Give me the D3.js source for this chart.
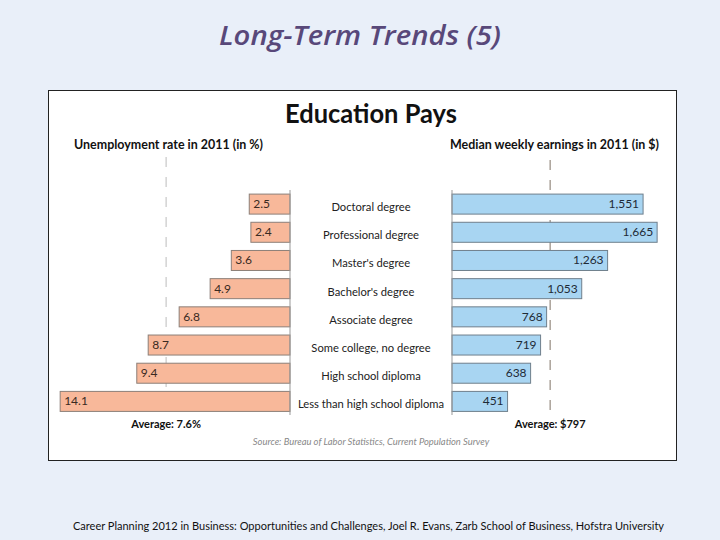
<!DOCTYPE html>
<html>
<head>
<meta charset="utf-8">
<script src="https://cdn.jsdelivr.net/npm/d3@7"></script>
<style>
  html, body { margin: 0; padding: 0; background: #e9eff9; }
  svg { display: block; }
</style>
</head>
<body>
<div id="chart"></div>
<script>
const categories = ['Doctoral degree', 'Professional degree', "Master's degree", "Bachelor's degree",
  'Associate degree', 'Some college, no degree', 'High school diploma', 'Less than high school diploma'];
const unemployment = [2.5, 2.4, 3.6, 4.9, 6.8, 8.7, 9.4, 14.1];
const earnings = [1551, 1665, 1263, 1053, 768, 719, 638, 451];
const unemploymentLabels = ['2.5', '2.4', '3.6', '4.9', '6.8', '8.7', '9.4', '14.1'];
const earningsLabels = ['1,551', '1,665', '1,263', '1,053', '768', '719', '638', '451'];
const avgUnemployment = 7.6;
const avgEarnings = 797;

const width = 720, height = 540;
const font = 'Lato, "Open Sans", sans-serif';

const svg = d3.select('#chart').append('svg')
  .attr('width', width)
  .attr('height', height);

svg.append('rect')
  .attr('width', width).attr('height', height)
  .attr('fill', '#e9eff9');

// slide title
svg.append('text')
  .attr('x', 219).attr('y', 45)
  .attr('textLength', 282).attr('lengthAdjust', 'spacingAndGlyphs')
  .attr('font-family', '"Open Sans", sans-serif')
  .attr('font-style', 'italic')
  .attr('font-weight', 600)
  .attr('font-size', 27)
  .attr('fill', '#58487a')
  .text('Long-Term Trends (5)');

// white panel
svg.append('rect')
  .attr('x', 48.5).attr('y', 90.5)
  .attr('width', 628).attr('height', 370)
  .attr('fill', '#fff')
  .attr('stroke', '#222')
  .attr('stroke-width', 1);

svg.append('text')
  .attr('x', 285).attr('y', 123)
  .attr('textLength', 172).attr('lengthAdjust', 'spacingAndGlyphs')
  .attr('font-family', font)
  .attr('font-weight', 'bold')
  .attr('font-size', 27)
  .attr('fill', '#111')
  .text('Education Pays');

svg.append('text')
  .attr('x', 74).attr('y', 149)
  .attr('textLength', 189).attr('lengthAdjust', 'spacingAndGlyphs')
  .attr('font-family', font)
  .attr('font-weight', 'bold')
  .attr('font-size', 13)
  .attr('fill', '#111')
  .text('Unemployment rate in 2011 (in %)');

svg.append('text')
  .attr('x', 450).attr('y', 149)
  .attr('textLength', 209).attr('lengthAdjust', 'spacingAndGlyphs')
  .attr('font-family', font)
  .attr('font-weight', 'bold')
  .attr('font-size', 13)
  .attr('fill', '#111')
  .text('Median weekly earnings in 2011 (in $)');

const y = d3.scaleBand()
  .domain(categories)
  .range([190, 415.5])
  .paddingInner(0.29)
  .paddingOuter(0.145);

const xLeft = d3.scaleLinear().domain([0, 15]).range([290, 290 - 15 * 16.3]);
const xRight = d3.scaleLinear().domain([0, 1700]).range([452, 452 + 1700 * 0.1232]);

// average lines
svg.append('line')
  .attr('x1', xLeft(avgUnemployment)).attr('x2', xLeft(avgUnemployment))
  .attr('y1', 157).attr('y2', 415)
  .attr('stroke', '#c8c8c8').attr('stroke-width', 1.2)
  .attr('stroke-dasharray', '10,10');

svg.append('line')
  .attr('x1', xRight(avgEarnings)).attr('x2', xRight(avgEarnings))
  .attr('y1', 160).attr('y2', 415)
  .attr('stroke', '#b0a8a0').attr('stroke-width', 1.6)
  .attr('stroke-dasharray', '10,10');

// left bars
svg.append('g').selectAll('rect')
  .data(unemployment)
  .join('rect')
    .attr('x', (d) => xLeft(d))
    .attr('y', (d, i) => y(categories[i]))
    .attr('width', (d) => xLeft(0) - xLeft(d))
    .attr('height', y.bandwidth())
    .attr('fill', '#f8b89a')
    .attr('stroke', '#8c7f78')
    .attr('stroke-width', 1);

svg.append('g').selectAll('text')
  .data(unemployment)
  .join('text')
    .attr('x', (d) => xLeft(d) + 4)
    .attr('y', (d, i) => y(categories[i]) + y.bandwidth() / 2 + 4)
    .attr('font-family', font)
    .attr('font-size', 12)
    .attr('fill', '#3a2a22')
    .text((d, i) => unemploymentLabels[i]);

// right bars
svg.append('g').selectAll('rect')
  .data(earnings)
  .join('rect')
    .attr('x', xRight(0))
    .attr('y', (d, i) => y(categories[i]))
    .attr('width', (d) => xRight(d) - xRight(0))
    .attr('height', y.bandwidth())
    .attr('fill', '#a8d5f2')
    .attr('stroke', '#6f7f8c')
    .attr('stroke-width', 1);

svg.append('g').selectAll('text')
  .data(earnings)
  .join('text')
    .attr('x', (d) => xRight(d) - 4)
    .attr('y', (d, i) => y(categories[i]) + y.bandwidth() / 2 + 4)
    .attr('text-anchor', 'end')
    .attr('font-family', font)
    .attr('font-size', 12)
    .attr('fill', '#1e2a36')
    .text((d, i) => earningsLabels[i]);

// zero lines
svg.append('line')
  .attr('x1', xLeft(0)).attr('x2', xLeft(0))
  .attr('y1', 190).attr('y2', 415)
  .attr('stroke', '#999').attr('stroke-width', 1);
svg.append('line')
  .attr('x1', xRight(0)).attr('x2', xRight(0))
  .attr('y1', 190).attr('y2', 415)
  .attr('stroke', '#999').attr('stroke-width', 1);

// category labels
svg.append('g').selectAll('text')
  .data(categories)
  .join('text')
    .attr('x', 371)
    .attr('y', (d) => y(d) + y.bandwidth() / 2 + 7)
    .attr('text-anchor', 'middle')
    .attr('font-family', font)
    .attr('font-size', 11.2)
    .attr('fill', '#222')
    .text((d) => d);

svg.append('text')
  .attr('x', xLeft(avgUnemployment)).attr('y', 428)
  .attr('text-anchor', 'middle')
  .attr('font-family', font)
  .attr('font-weight', 'bold')
  .attr('font-size', 11)
  .attr('fill', '#111')
  .text('Average: 7.6%');

svg.append('text')
  .attr('x', xRight(avgEarnings)).attr('y', 428)
  .attr('text-anchor', 'middle')
  .attr('font-family', font)
  .attr('font-weight', 'bold')
  .attr('font-size', 11)
  .attr('fill', '#111')
  .text('Average: $797');

svg.append('text')
  .attr('x', 371).attr('y', 445)
  .attr('text-anchor', 'middle')
  .attr('font-family', font)
  .attr('font-style', 'italic')
  .attr('font-size', 9.4)
  .attr('fill', '#888')
  .text('Source: Bureau of Labor Statistics, Current Population Survey');

// footer
svg.append('text')
  .attr('x', 73).attr('y', 530)
  .attr('textLength', 591).attr('lengthAdjust', 'spacingAndGlyphs')
  .attr('font-family', font)
  .attr('font-size', 11.5)
  .attr('fill', '#111')
  .text('Career Planning 2012 in Business: Opportunities and Challenges, Joel R.  Evans, Zarb School of Business, Hofstra University');
</script>
</body>
</html>
